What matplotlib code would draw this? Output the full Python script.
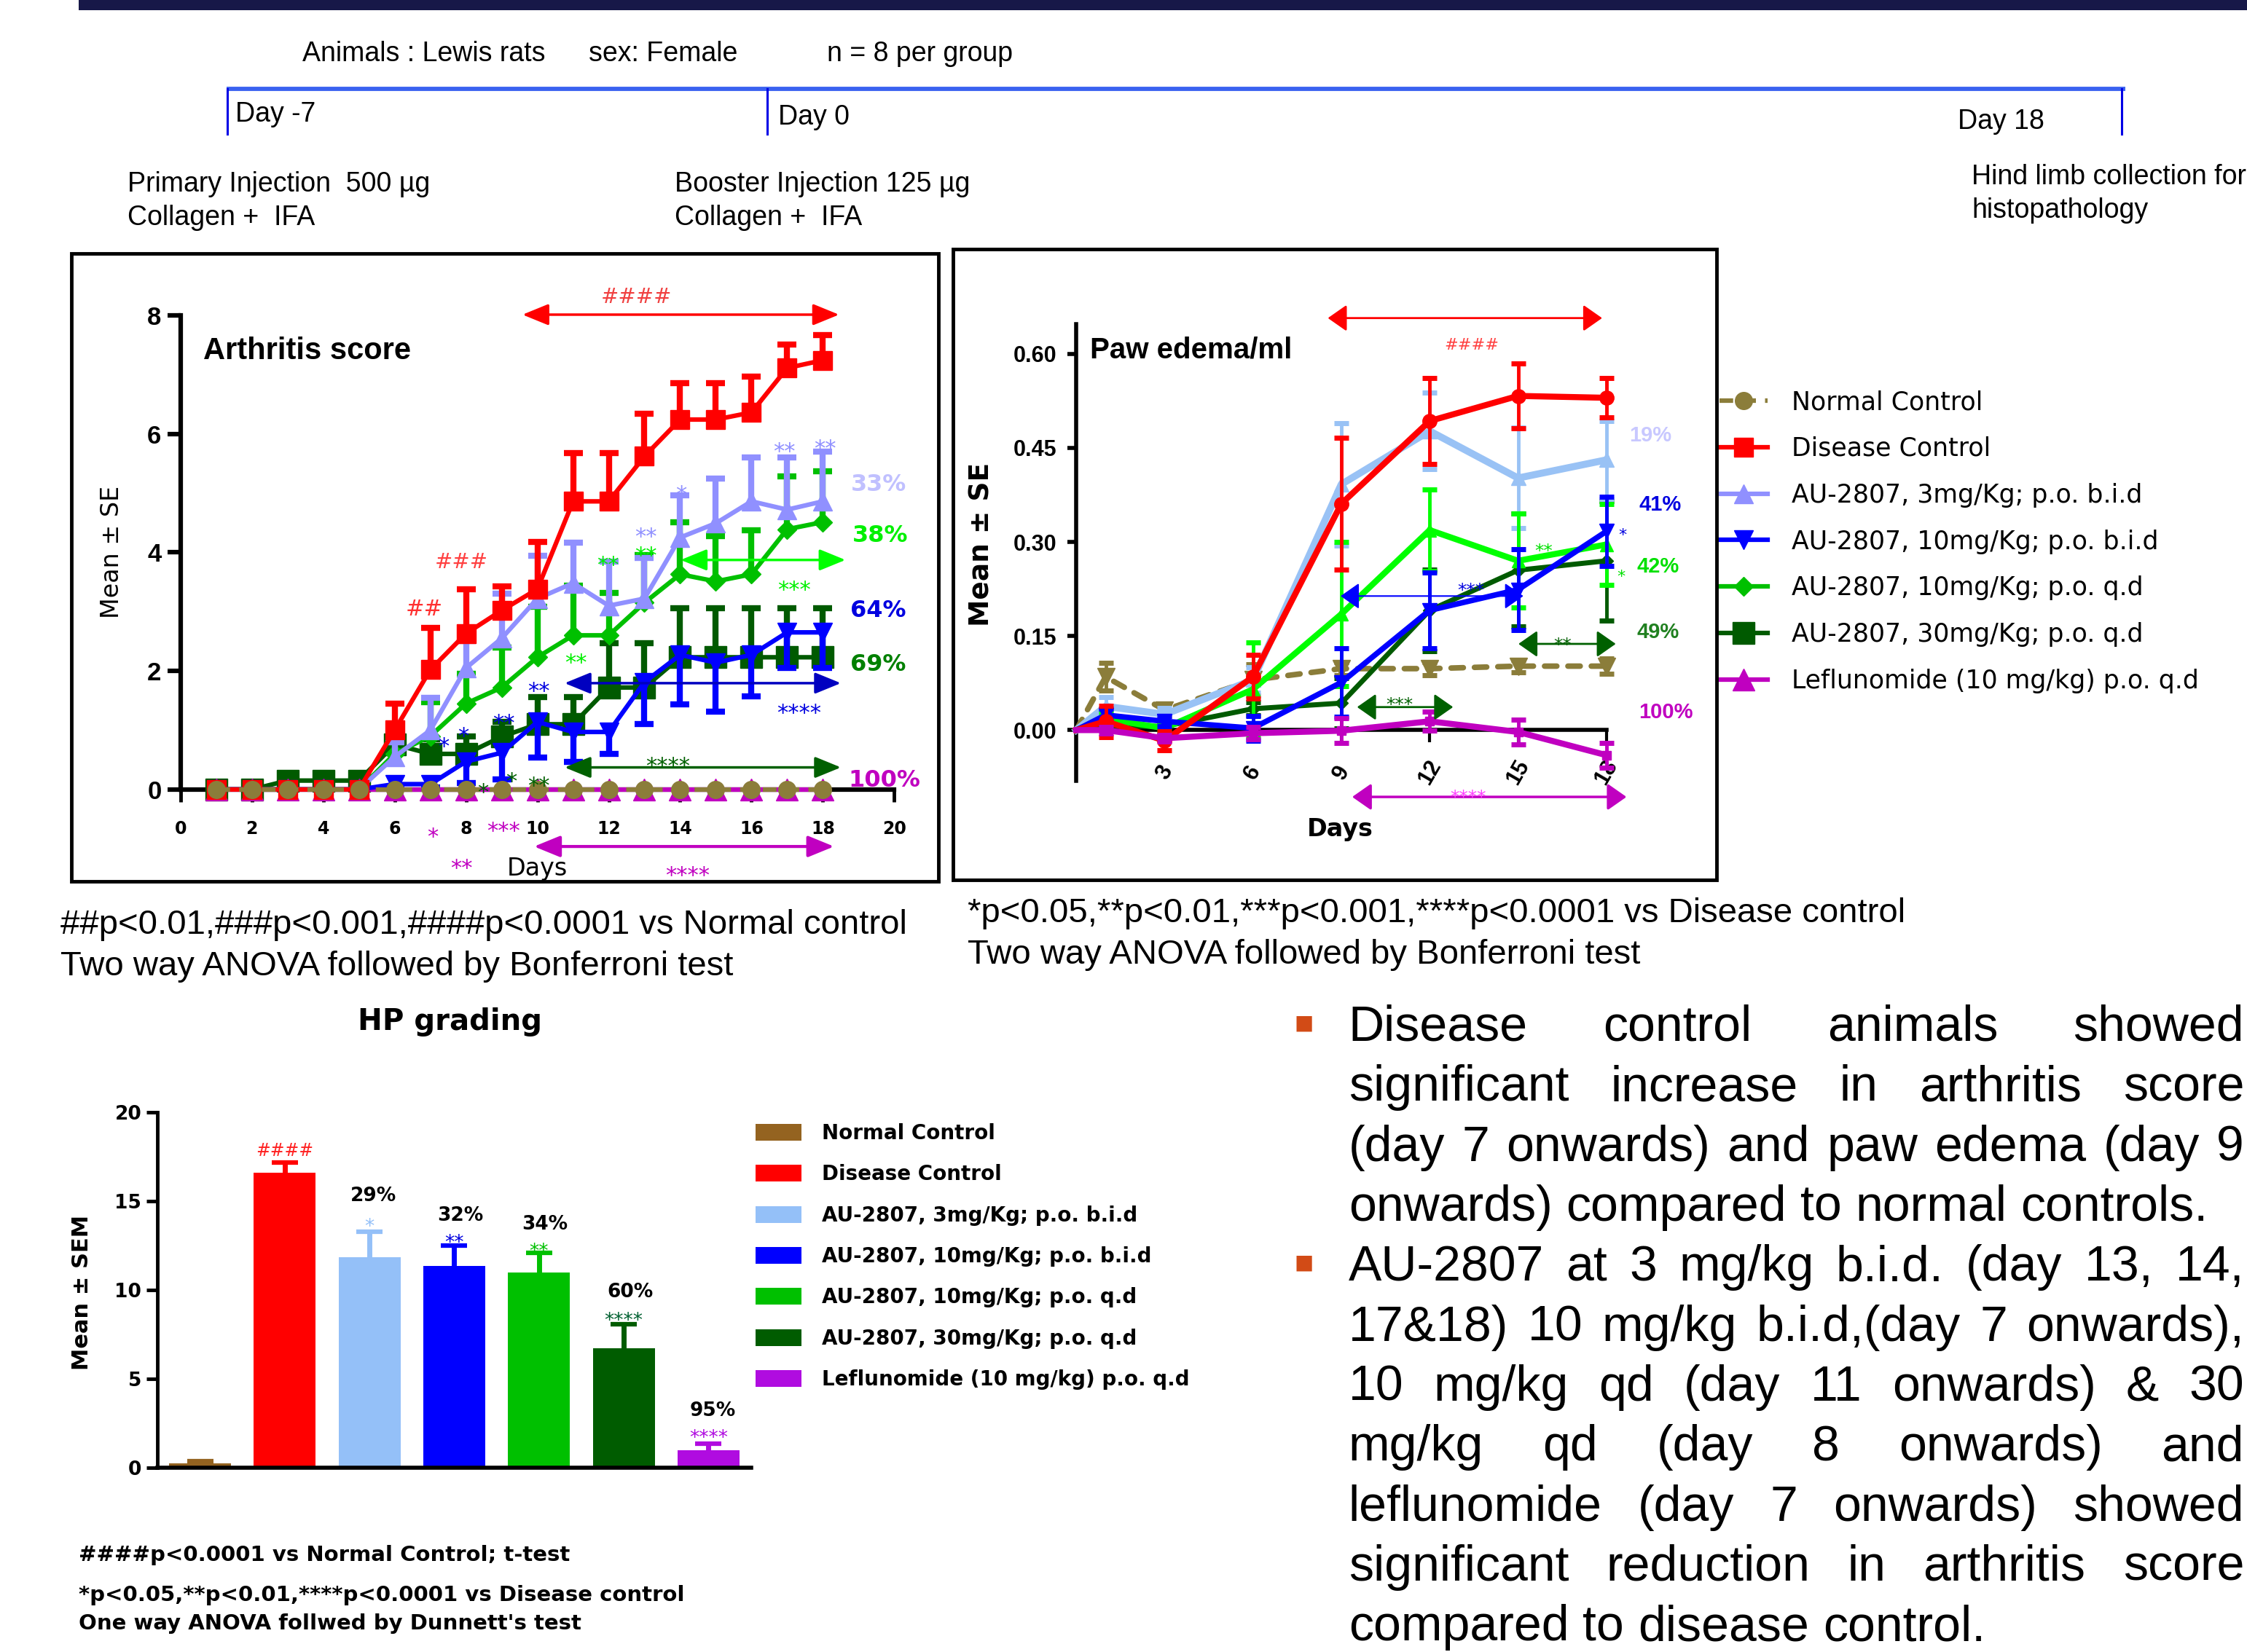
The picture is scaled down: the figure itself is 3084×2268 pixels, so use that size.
import numpy as np
import matplotlib
matplotlib.use("Agg")
import matplotlib.pyplot as plt
from matplotlib.patches import FancyArrowPatch, Rectangle

BASE = ["Liberation Sans", "DejaVu Sans"]
DV = ["DejaVu Sans"]
plt.rcParams["font.family"] = BASE

# ---------------------------------------------------------------- data
groups = [
    "Normal Control",
    "Disease Control",
    "AU-2807, 3mg/Kg; p.o. b.i.d",
    "AU-2807, 10mg/Kg; p.o. b.i.d",
    "AU-2807, 10mg/Kg; p.o. q.d",
    "AU-2807, 30mg/Kg; p.o. q.d",
    "Leflunomide (10 mg/kg) p.o. q.d",
]

# Arthritis score, mean and SE per study day
score_days = [1, 2, 3, 4, 5, 6, 7, 8, 9, 10, 11, 12, 13, 14, 15, 16, 17, 18]
score_ticks = [0, 2, 4, 6, 8, 10, 12, 14, 16, 18, 20]
score_yticks = [0, 2, 4, 6, 8]
score_normal = [0, 0, 0, 0, 0, 0, 0, 0, 0, 0, 0, 0, 0, 0, 0, 0, 0, 0]
score_disease = [0, 0, 0, 0, 0, 1.00, 2.02, 2.63, 3.02, 3.38, 4.86, 4.86, 5.62, 6.24, 6.24, 6.36, 7.11, 7.24]
score_disease_se = [0, 0, 0, 0, 0, 0.45, 0.70, 0.75, 0.40, 0.80, 0.82, 0.82, 0.72, 0.62, 0.62, 0.60, 0.40, 0.42]
score_3bid = [0, 0, 0, 0, 0, 0.55, 1.00, 2.05, 2.55, 3.22, 3.48, 3.10, 3.22, 4.25, 4.49, 4.86, 4.72, 4.86]
score_3bid_se = [0, 0, 0, 0, 0, 0.25, 0.55, 0.45, 0.75, 0.72, 0.68, 0.74, 0.68, 0.71, 0.76, 0.74, 0.88, 0.84]
score_10bid = [0, 0, 0, 0, 0, 0.09, 0.09, 0.47, 0.62, 1.14, 0.97, 0.97, 1.81, 2.27, 2.14, 2.27, 2.65, 2.65]
score_10bid_se = [0, 0, 0, 0, 0, 0.05, 0.05, 0.36, 0.45, 0.60, 0.50, 0.37, 0.70, 0.84, 0.83, 0.70, 0.60, 0.60]
score_10qd = [0, 0, 0, 0, 0, 0.60, 0.90, 1.45, 1.72, 2.23, 2.60, 2.60, 3.15, 3.63, 3.51, 3.63, 4.39, 4.51]
score_10qd_se = [0, 0, 0, 0, 0, 0.20, 0.57, 0.50, 0.68, 0.85, 0.84, 0.72, 0.81, 0.88, 0.77, 0.74, 0.89, 0.86]
score_30qd = [0, 0, 0.15, 0.15, 0.15, 0.76, 0.60, 0.60, 0.89, 1.10, 1.10, 1.72, 1.72, 2.23, 2.23, 2.23, 2.23, 2.23]
score_30qd_se = [0, 0, 0, 0, 0, 0.25, 0.25, 0.30, 0.25, 0.46, 0.46, 0.75, 0.75, 0.83, 0.83, 0.83, 0.83, 0.83]
score_lef = [0, 0, 0, 0, 0, 0, 0, 0, 0, 0, 0, 0, 0, 0, 0, 0, 0, 0]

# Paw edema (ml), mean and SE per study day
paw_days = [0, 1, 3, 6, 9, 12, 15, 18]
paw_ticks = [3, 6, 9, 12, 15, 18]
paw_yticks = [0.00, 0.15, 0.30, 0.45, 0.60]
paw_normal = [0, 0.085, 0.032, 0.080, 0.098, 0.098, 0.102, 0.102]
paw_normal_se = [0, 0.022, 0.010, 0.025, 0.010, 0.010, 0.010, 0.012]
paw_disease = [0, 0.014, -0.017, 0.085, 0.361, 0.493, 0.533, 0.530]
paw_disease_se = [0, 0.025, 0.015, 0.035, 0.105, 0.069, 0.052, 0.031]
paw_3bid = [0, 0.038, 0.025, 0.080, 0.392, 0.477, 0.402, 0.431]
paw_3bid_se = [0, 0.015, 0.010, 0.020, 0.098, 0.061, 0.080, 0.062]
paw_10bid = [0, 0.024, 0.014, 0.003, 0.076, 0.191, 0.224, 0.317]
paw_10bid_se = [0, 0.010, 0.008, 0.020, 0.055, 0.060, 0.065, 0.055]
paw_10qd = [0, 0.018, 0.003, 0.065, 0.185, 0.319, 0.270, 0.296]
paw_10qd_se = [0, 0.010, 0.008, 0.075, 0.115, 0.065, 0.075, 0.065]
paw_30qd = [0, 0.006, 0.006, 0.034, 0.043, 0.191, 0.255, 0.270]
paw_30qd_se = [0, 0.005, 0.005, 0.010, 0.040, 0.065, 0.090, 0.095]
paw_lef = [0, 0.000, -0.013, -0.005, -0.001, 0.014, -0.003, -0.040]
paw_lef_se = [0, 0.005, 0.005, 0.010, 0.020, 0.015, 0.020, 0.020]

# Histopathology grading, mean and SEM per group
hp_mean = [0.25, 16.6, 11.85, 11.35, 11.0, 6.75, 1.0]
hp_sem = [0.12, 0.6, 1.45, 1.15, 1.1, 1.35, 0.35]
hp_yticks = [0, 5, 10, 15, 20]
hp_inhibition = ["", "", "29%", "32%", "34%", "60%", "95%"]
hp_signif = ["", "####", "*", "**", "**", "****", "****"]

line_colors = ["#8B7D3A", "#FF0000", "#9090FF", "#0000FF", "#00C000", "#005A00", "#C000C0"]
paw_colors = ["#8B7D3A", "#FF0000", "#99C2F5", "#0000FF", "#00FF00", "#005A00", "#C000C0"]
bar_colors = ["#946320", "#FF0000", "#94C0F8", "#0000FF", "#00C000", "#005C00", "#B00CE0"]

# ---------------------------------------------------------------- canvas
W, H = 1568.0, 1153.0          # layout units
DPI = 100
FW, FH = 30.84, 22.68
PX2U = W / (FW * DPI)

fig = plt.figure(figsize=(FW, FH), dpi=DPI)
fig.patch.set_facecolor("white")


def frac(x0, y0, x1, y1):
    return [x0 / W, 1 - y1 / H, (x1 - x0) / W, (y1 - y0) / H]


ov = fig.add_axes([0, 0, 1, 1], zorder=5)
ov.set_xlim(0, W)
ov.set_ylim(H, 0)
ov.set_axis_off()
ov.patch.set_visible(False)


def label(ax, x, y, s, size, color="black", weight="normal", family=None,
          ha="left", k=0.36, rot=0):
    kw = dict(fontsize=size, color=color, fontweight=weight, ha=ha,
              va="baseline", rotation=rot, annotation_clip=False)
    if family is not None:
        kw["family"] = family
    return ax.annotate(s, (x, y), xytext=(0, -k * size),
                       textcoords="offset points", **kw)


def star(ax, x, y, s, color, size=22):
    return label(ax, x, y, s, size, color=color, family=DV, ha="center", k=0.59)


def darrow(x0, x1, y, color, lw=2.5, ms=20, hl=1.1, hw=0.45):
    ov.add_patch(FancyArrowPatch(
        (x0, y), (x1, y),
        arrowstyle=f"<|-|>,head_length={hl},head_width={hw}",
        mutation_scale=ms, color=color, lw=lw, shrinkA=0, shrinkB=0))


# ---------------------------------------------------------------- header
ov.add_patch(Rectangle((55, -3), 1516, 10, fc="#171848", ec="none"))
ov.plot([158, 1483], [62, 62], color="#3A62F0", lw=4.2, solid_capstyle="butt")
for xt in [158.5, 535.5, 1480.5]:
    ov.plot([xt, xt], [62, 93.5], color="#0000E6", lw=2.2)

for x, y, s in [(211, 36, "Animals : Lewis rats"), (411, 36, "sex: Female"),
                (577, 36, "n = 8 per group"), (164, 78, "Day -7"),
                (543, 80, "Day 0"), (1366, 83, "Day 18"),
                (89, 127, "Primary Injection  500 µg"), (89, 150, "Collagen +  IFA"),
                (471, 127, "Booster Injection 125 µg"), (471, 150, "Collagen +  IFA"),
                (1376, 122, "Hind limb collection for"), (1376, 145, "histopathology")]:
    label(ov, x, y, s, 27)

# panel frames
ov.add_patch(Rectangle((50, 177), 605, 438, fill=False, lw=3.5, ec="black"))
ov.add_patch(Rectangle((665, 174), 533, 440, fill=False, lw=3.5, ec="black"))

# ---------------------------------------------------------------- arthritis score
ax1 = fig.add_axes(frac(126, 220, 624, 551))
ax1.patch.set_visible(False)
ax1.set_xlim(0, 20)
ax1.set_ylim(0, 8)
ax1.spines[["top", "right"]].set_visible(False)
ax1.spines["left"].set_linewidth(4.5)
ax1.spines["bottom"].set_linewidth(4.5)
ax1.set_xticks(score_ticks)
ax1.set_xticklabels([str(v) for v in score_ticks], family=DV, fontweight="bold", fontsize=17)
ax1.set_yticks(score_yticks)
ax1.set_yticklabels([str(v) for v in score_yticks], fontweight="bold", fontsize=25)
ax1.tick_params(axis="y", length=13, width=4.5, pad=6)
ax1.tick_params(axis="x", length=12, width=3.5, pad=18)
ax1.set_ylabel("Mean ± SE", family=DV, fontsize=24)
ax1.yaxis.set_label_coords((78 - 126) / 498, 0.50)
ax1.yaxis.label.set_va("center")
ax1.set_xlabel("Days", family=DV, fontsize=24)
ax1.xaxis.set_label_coords((374.7 - 126) / 498, (551 - 606) / 331)
ax1.xaxis.label.set_va("center")


def score_series(vals, errs, color, marker, ms, z, side="up", ls="-", dashes=None):
    kw = dict(color=color, marker=marker, ms=ms, mec=color, lw=4.5, ls=ls, zorder=z)
    if dashes is not None:
        kw["dashes"] = dashes
    if errs is None:
        line, = ax1.plot(score_days, vals, **kw)
        line.set_clip_on(False)
        return line
    e = np.asarray(errs, float)
    zero = np.zeros_like(e)
    yerr = [zero, e] if side == "up" else [e, zero]
    c = ax1.errorbar(score_days, vals, yerr=yerr, elinewidth=6, capsize=9.5,
                     capthick=6, errorevery=(5, 1), **kw)
    base = np.asarray(vals, float)[5:]
    for cap in c.lines[1]:
        if np.allclose(cap.get_ydata(), base):
            cap.set_visible(False)
    for art in [c.lines[0], *c.lines[1], *c.lines[2]]:
        art.set_clip_on(False)
    return c.lines[0]


h_30qd = score_series(score_30qd, score_30qd_se, line_colors[5], "s", 21, 3.0)
h_lef = score_series(score_lef, None, line_colors[6], "^", 22, 3.2)
h_10qd = score_series(score_10qd, score_10qd_se, line_colors[4], "D", 13, 3.4)
h_3bid = score_series(score_3bid, score_3bid_se, line_colors[2], "^", 19, 3.6)
h_10bid = score_series(score_10bid, score_10bid_se, line_colors[3], "v", 19, 3.8, side="down")
h_dis = score_series(score_disease, score_disease_se, line_colors[1], "s", 19, 4.0)
h_nc = score_series(score_normal, None, line_colors[0], "o", 17, 4.2, ls="--", dashes=(3, 2))

label(ov, 142, 243, "Arthritis score", 30, weight="bold")

darrow(364.6, 585.5, 219.6, "#FF0000", lw=2.5)
label(ov, 444, 206, "####", 21, color="#F04040", family=DV, ha="center")
label(ov, 296, 424, "##", 22, color="#FF3030", family=DV, ha="center")
label(ov, 322, 391, "###", 21, color="#FF4040", family=DV, ha="center")

for x, y, s in [(547.5, 310.6, "**"), (575.8, 308.6, "**"), (475, 340.5, "*"), (450.4, 370, "**")]:
    star(ov, x, y, s, "#9090FF")
for x, y, s in [(450.4, 383.5, "**"), (424, 390, "**"), (554, 407, "***"), (401.7, 458, "**")]:
    star(ov, x, y, s, "#00F000")
for x, y, s in [(375.7, 478, "**"), (557.5, 493, "****"), (351.3, 500, "**"),
                (323.4, 509.5, "*"), (309.6, 516.5, "*")]:
    star(ov, x, y, s, "#0000E0")
for x, y, s in [(466, 530, "****"), (337, 548.6, "*"), (357, 540.7, "*"), (375.7, 544, "**")]:
    star(ov, x, y, s, "#006000")
for x, y, s in [(302, 579.6, "*"), (351.3, 575.3, "***"), (322, 601.3, "**"), (479.7, 606.5, "****")]:
    star(ov, x, y, s, "#C000C0")

darrow(475, 590, 390.8, "#00FF00", lw=2.5)
darrow(394, 586.8, 476.8, "#0000C0", lw=2.5)
darrow(394, 586.8, 535.6, "#006000", lw=2.5)
darrow(372.7, 582, 590.8, "#C000C0", lw=3)

for s, x, y, col in [("33%", 594, 337, "#C0C0FF"), ("38%", 595, 372.6, "#00F000"),
                     ("64%", 593.4, 425, "#0000E0"), ("69%", 593.4, 462.4, "#008000"),
                     ("100%", 592, 543.3, "#C000C0")]:
    label(ov, x, y, s, 23, color=col, weight="bold", family=DV)

# ---------------------------------------------------------------- paw edema
ax2 = fig.add_axes(frac(751, 226, 1121, 545))
ax2.patch.set_visible(False)
ax2.set_xlim(0, 18)
ax2.set_ylim(-0.081, 0.648)
ax2.spines[["top", "right"]].set_visible(False)
ax2.spines["left"].set_linewidth(4)
ax2.spines["bottom"].set_linewidth(4)
ax2.spines["bottom"].set_position(("data", 0))
ax2.set_xticks(paw_ticks)
ax2.set_xticklabels([str(v) for v in paw_ticks], rotation=60, ha="center", va="center",
                    fontweight="bold", fontsize=22)
ax2.set_yticks(paw_yticks)
ax2.set_yticklabels([f"{v:.2f}" for v in paw_yticks], fontweight="bold", fontsize=22)
ax2.tick_params(axis="y", length=9, width=4, pad=10)
ax2.tick_params(axis="x", length=12, width=3, pad=30)
ax2.set_ylabel("Mean ± SE", family=DV, fontweight="bold", fontsize=27)
ax2.yaxis.set_label_coords((685 - 751) / 370, 0.517)
ax2.yaxis.label.set_va("center")
ax2.set_xlabel("Days", family=DV, fontweight="bold", fontsize=24)
ax2.xaxis.set_label_coords((935 - 751) / 370, (545 - 578.6) / 319)
ax2.xaxis.label.set_va("center")


def paw_series(vals, errs, color, marker, ms, lw, z, ls="-", dashes=None):
    kw = dict(color=color, marker=marker, ms=ms, mec=color, lw=lw, ls=ls, zorder=z)
    if dashes is not None:
        kw["dashes"] = dashes
    c = ax2.errorbar(paw_days, vals, yerr=errs, elinewidth=3.5, capsize=7, capthick=5,
                     markevery=(1, 1), errorevery=(1, 1), **kw)
    for art in [c.lines[0], *c.lines[1], *c.lines[2]]:
        art.set_clip_on(False)
    if dashes is not None:
        c.lines[0].set_dash_capstyle("round")
    return c


paw_series(paw_normal, paw_normal_se, paw_colors[0], "v", 17, 5.5, 3.0, ls="--", dashes=(2.2, 2.0))
paw_series(paw_30qd, paw_30qd_se, paw_colors[5], "D", 9, 5, 3.2)
paw_series(paw_3bid, paw_3bid_se, paw_colors[2], "^", 14, 7, 3.4)
paw_series(paw_10qd, paw_10qd_se, paw_colors[4], "^", 13, 6, 3.6)
paw_series(paw_10bid, paw_10bid_se, paw_colors[3], "v", 14, 5.5, 3.8)
paw_series(paw_disease, paw_disease_se, paw_colors[1], "o", 14, 6, 4.0)
paw_series(paw_lef, paw_lef_se, paw_colors[6], "s", 8, 6, 4.2)

label(ov, 760.6, 242.4, "Paw edema/ml", 29, weight="bold")
darrow(926.6, 1118, 222, "#FF0000", lw=2, ms=16, hl=1.0, hw=0.7)
label(ov, 1027, 239.8, "####", 16, color="#FF4040", family=DV, ha="center")

for s, x, y, col in [("19%", 1137, 302.5, "#C8C8FF"), ("41%", 1143.5, 350.8, "#0000E0"),
                     ("42%", 1142, 394, "#00E000"), ("49%", 1142, 439.8, "#208020"),
                     ("100%", 1143.5, 495.7, "#C000C0")]:
    label(ov, x, y, s, 21, color=col, weight="bold")

star(ov, 1132, 370, "*", "#0000E0", 16)
star(ov, 1131, 399, "*", "#00E000", 16)
star(ov, 1077, 381, "**", "#00E000", 18)
star(ov, 1026.5, 408.3, "***", "#0000E0", 18)
star(ov, 1090.5, 446.5, "**", "#006000", 18)
star(ov, 976.6, 488, "***", "#006000", 18)
star(ov, 1024.7, 552.6, "****", "#FF40FF", 18)

darrow(935.5, 1063, 416, "#0000FF", lw=1.5, ms=16, hl=1.0, hw=0.7)
darrow(1059.6, 1127.5, 449.4, "#006000", lw=2, ms=16, hl=1.0, hw=0.7)
darrow(947, 1014, 493.5, "#006000", lw=2, ms=16, hl=1.0, hw=0.7)
darrow(943.6, 1135, 556.2, "#C000C0", lw=2.5, ms=16, hl=1.0, hw=0.7)

ax2.legend([h_nc, h_dis, h_3bid, h_10bid, h_10qd, h_30qd, h_lef], groups,
           loc="upper left", bbox_to_anchor=(1200 / W, 1 - 272 / H),
           bbox_transform=fig.transFigure, frameon=False,
           prop={"family": DV, "size": 25}, handlelength=1.9, handletextpad=0.95,
           labelspacing=0.86, borderpad=0, borderaxespad=0, numpoints=1)

# footnotes under the line charts
label(ov, 42, 643, "##p<0.01,###p<0.001,####p<0.0001 vs Normal control", 34)
label(ov, 42, 672, "Two way ANOVA followed by Bonferroni test", 34)
label(ov, 675, 635, "*p<0.05,**p<0.01,***p<0.001,****p<0.0001 vs Disease control", 34)
label(ov, 675, 664, "Two way ANOVA followed by Bonferroni test", 34)

# ---------------------------------------------------------------- HP grading
ax3 = fig.add_axes(frac(110, 776.4, 524, 1024.5))
ax3.patch.set_visible(False)
ax3.set_xlim(-0.5, 6.5)
ax3.set_ylim(0, 20)
ax3.spines[["top", "right"]].set_visible(False)
ax3.spines["left"].set_linewidth(3.5)
ax3.spines["bottom"].set_linewidth(4)
ax3.set_xticks([])
ax3.set_yticks(hp_yticks)
ax3.set_yticklabels([str(v) for v in hp_yticks], family=DV, fontweight="bold", fontsize=19)
ax3.tick_params(axis="y", length=11, width=3.5, pad=5)
ax3.set_ylabel("Mean ± SEM", family=DV, fontweight="bold", fontsize=22)
ax3.yaxis.set_label_coords((57 - 110) / 414, 0.494)
ax3.yaxis.label.set_va("center")
ax3.text((314 - 110) / 414, (1024.5 - 713) / 248.1, "HP grading", transform=ax3.transAxes,
         ha="center", va="center", family=DV, fontweight="bold", fontsize=29)

for i, name in enumerate(groups):
    ax3.bar(i, hp_mean[i], width=0.73, color=bar_colors[i], label=name, zorder=2)
    c = ax3.errorbar(i, hp_mean[i], yerr=[[0], [hp_sem[i]]], color=bar_colors[i],
                     elinewidth=5, capsize=13, capthick=4.5, zorder=1.9)
    for cap in c.lines[1]:
        if np.allclose(cap.get_ydata(), [hp_mean[i]]):
            cap.set_visible(False)

sig_colors = ["black", "#FF2020", "#94C0F8", "#0000E0", "#00C000", "#006030", "#B00CE0"]
pct_y = [0, 0, 15.4, 14.3, 13.8, 10.0, 3.3]
sig_y = [0, 17.9, 13.9, 13.0, 12.5, 8.6, 2.0]
pct_dx = [0, 0, 0.05, 0.07, 0.07, 0.08, 0.05]
for i in range(len(groups)):
    if hp_inhibition[i]:
        label(ax3, i + pct_dx[i], pct_y[i], hp_inhibition[i], 19, weight="bold", family=DV, ha="center")
    if hp_signif[i]:
        if hp_signif[i].startswith("#"):
            label(ax3, i, sig_y[i], hp_signif[i], 17, color=sig_colors[i], family=DV, ha="center")
        else:
            star(ax3, i, sig_y[i], hp_signif[i], sig_colors[i], 19)

ax3.legend(loc="upper left", bbox_to_anchor=(527 / W, 1 - 784 / H),
           bbox_transform=fig.transFigure, frameon=False,
           prop={"family": DV, "weight": "bold", "size": 20},
           handlelength=2.3, handleheight=0.9, handletextpad=1.0,
           labelspacing=1.02, borderpad=0, borderaxespad=0)

label(ov, 55, 1084, "####p<0.0001 vs Normal Control; t-test", 21, weight="bold", family=DV)
label(ov, 55, 1112, "*p<0.05,**p<0.01,****p<0.0001 vs Disease control", 21, weight="bold", family=DV)
label(ov, 55, 1132, "One way ANOVA follwed by Dunnett's test", 21, weight="bold", family=DV)

# ---------------------------------------------------------------- summary bullets
paragraphs = [
    ["Disease control animals showed",
     "significant increase in arthritis score",
     "(day 7 onwards) and paw edema (day 9",
     "onwards) compared to normal controls."],
    ["AU-2807 at 3 mg/kg b.i.d. (day 13, 14,",
     "17&18) 10 mg/kg b.i.d,(day 7 onwards),",
     "10 mg/kg qd (day 11 onwards) & 30",
     "mg/kg qd (day 8 onwards) and",
     "leflunomide (day 7 onwards) showed",
     "significant reduction in arthritis score",
     "compared to disease control."],
]
XL, XR = 941.0, 1566.0
BODY = 49
LINE_STEP = 41.85
renderer = fig.canvas.get_renderer()
space_u = 0.278 * BODY * DPI / 72 * PX2U
y = 714.0
for para in paragraphs:
    label(ov, 910, y - 1, "■", 20, color="#D24B16", family=DV, ha="center")
    for j, line in enumerate(para):
        words = line.split()
        arts = [label(ov, 0, y, w, BODY) for w in words]
        widths = [a.get_window_extent(renderer).width * PX2U for a in arts]
        last = j == len(para) - 1
        gap = space_u if last else (XR - XL - sum(widths)) / (len(words) - 1)
        x = XL
        for a, wd in zip(arts, widths):
            a.xy = (x, y)
            x += wd + gap
        y += LINE_STEP

fig.savefig("out.png", dpi=DPI)
